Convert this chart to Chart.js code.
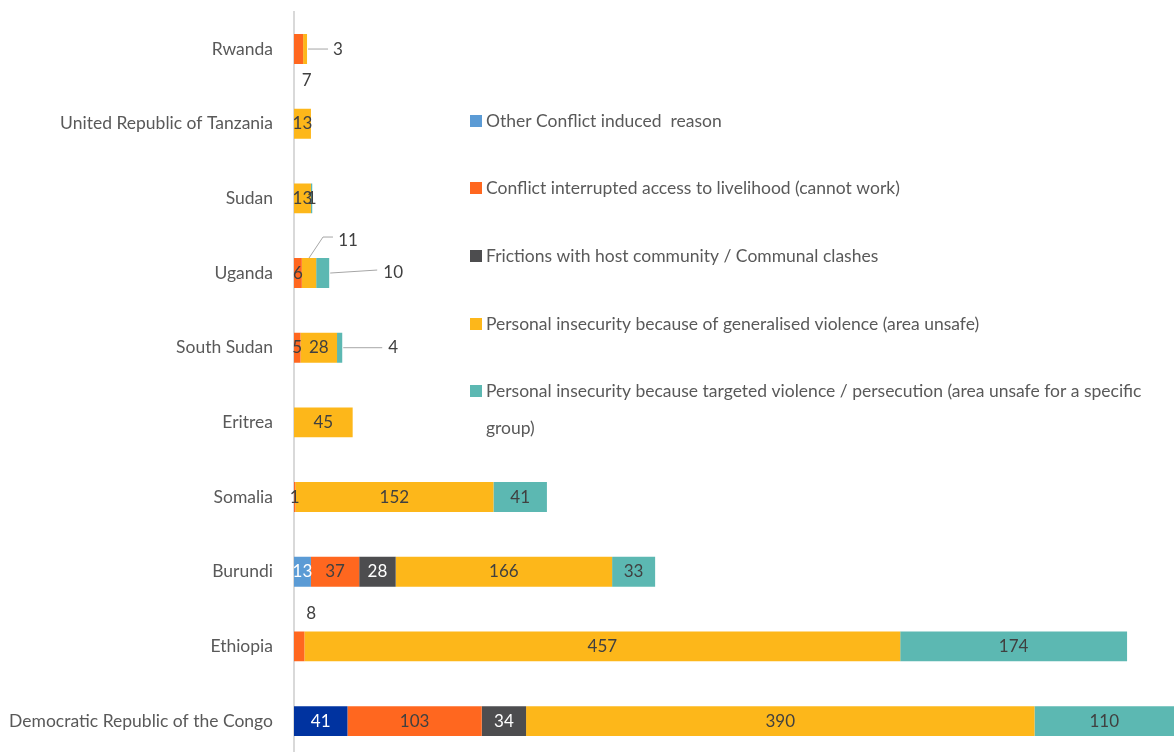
<!DOCTYPE html>
<html>
<head>
<meta charset="utf-8">
<script src="https://cdn.jsdelivr.net/npm/chart.js@4/dist/chart.umd.min.js"></script>
<style>
  html, body { margin: 0; padding: 0; background: #ffffff; overflow: hidden; }
  #wrap { position: relative; width: 1174px; height: 759px; }
</style>
</head>
<body>
<div id="wrap"><canvas id="c" width="1174" height="759"></canvas></div>
<script>
// ---- Data ----
const categories = ['Rwanda', 'United Republic of Tanzania', 'Sudan', 'Uganda', 'South Sudan', 'Eritrea', 'Somalia', 'Burundi', 'Ethiopia', 'Democratic Republic of the Congo'];
const otherConflict = [null, null, null, null, null, null, null, 13, null, 41];
const livelihood    = [7, null, null, 6, 5, null, 1, 37, 8, 103];
const frictions     = [null, null, null, null, null, null, null, 28, null, 34];
const generalised   = [3, 13, 13, 11, 28, 45, 152, 166, 457, 390];
const targeted      = [null, null, 1, 10, 4, null, 41, 33, 174, 110];
const seriesNames = [
  'Other Conflict induced  reason',
  'Conflict interrupted access to livelihood (cannot work)',
  'Frictions with host community / Communal clashes',
  'Personal insecurity because of generalised violence (area unsafe)',
  'Personal insecurity because targeted violence / persecution (area unsafe for a specific group)'
];

// ---- Styles ----
const FONT = 'Lato, "Open Sans", sans-serif';
const colors = ['#5B9BD5', '#FF671F', '#4D4D4F', '#FDB71A', '#5CB8B2'];
const otherColors = categories.map((c, i) => i === categories.length - 1 ? '#0033A0' : colors[0]);
const whiteLabelSeries = [0, 2];

// special label placements (pixel offsets), keyed "series:category"
const labelPlacement = {
  '1:0': { from: 'center', label: [8, 31] },
  '3:0': { from: 'end', label: [31, 0], line: [[1, 0], [21, 0]] },
  '3:3': { from: 'center', label: [39, -33], line: [[0, -15], [14, -36], [24, -36]] },
  '4:3': { from: 'end', label: [64, -1], line: [[1, 0], [48, -3]] },
  '4:4': { from: 'end', label: [51, 0], line: [[1, 0], [40, 0]] },
  '1:8': { from: 'center', label: [12, -33] }
};

const dataLabelPlugin = {
  id: 'dataLabels',
  afterDatasetsDraw(chart) {
    const ctx = chart.ctx;
    ctx.save();
    ctx.font = '17px ' + FONT;
    ctx.textAlign = 'center';
    ctx.textBaseline = 'middle';
    chart.data.datasets.forEach((ds, i) => {
      const meta = chart.getDatasetMeta(i);
      meta.data.forEach((bar, j) => {
        const v = ds.data[j];
        if (v === null || v === undefined) return;
        const p = bar.getProps(['x', 'y', 'base'], true);
        const endX = Math.min(p.x, chart.chartArea.right);
        const cx = (endX + p.base) / 2;
        const pl = labelPlacement[i + ':' + j];
        let lx = cx, ly = p.y;
        let color = whiteLabelSeries.includes(i) ? '#ffffff' : '#404040';
        if (pl) {
          const ox = pl.from === 'end' ? p.x : cx;
          if (pl.line) {
            ctx.strokeStyle = '#A6A6A6';
            ctx.lineWidth = 1;
            ctx.beginPath();
            pl.line.forEach((pt, k) => {
              if (k === 0) ctx.moveTo(ox + pt[0], p.y + pt[1]);
              else ctx.lineTo(ox + pt[0], p.y + pt[1]);
            });
            ctx.stroke();
          }
          lx = ox + pl.label[0];
          ly = p.y + pl.label[1];
          color = '#404040';
        }
        ctx.fillStyle = color;
        ctx.fillText(String(v), lx, ly);
      });
    });
    ctx.restore();
  }
};

const legendPlugin = {
  id: 'customLegend',
  afterDraw(chart) {
    const ctx = chart.ctx;
    ctx.save();
    ctx.font = '17.5px ' + FONT;
    ctx.textBaseline = 'middle';
    ctx.textAlign = 'left';
    const boxX = 470, textX = 486, rows = [121, 188, 256, 324, 391], lineH = 37;
    const maxW = 1174 - textX - 4;
    chart.data.datasets.forEach((ds, i) => {
      const y = rows[i];
      ctx.fillStyle = colors[i];
      ctx.fillRect(boxX, y - 6, 12, 12);
      ctx.fillStyle = '#595959';
      const words = ds.label.split(' ');
      let line = '', lines = [];
      words.forEach(w => {
        const test = line ? line + ' ' + w : w;
        if (ctx.measureText(test).width > maxW && line) { lines.push(line); line = w; }
        else line = test;
      });
      lines.push(line);
      lines.forEach((l, k) => ctx.fillText(l, textX, y + k * lineH));
    });
    ctx.restore();
  }
};

new Chart(document.getElementById('c'), {
  type: 'bar',
  data: {
    labels: categories,
    datasets: [
      { label: seriesNames[0], data: otherConflict, backgroundColor: otherColors },
      { label: seriesNames[1], data: livelihood, backgroundColor: colors[1] },
      { label: seriesNames[2], data: frictions, backgroundColor: colors[2] },
      { label: seriesNames[3], data: generalised, backgroundColor: colors[3] },
      { label: seriesNames[4], data: targeted, backgroundColor: colors[4] }
    ]
  },
  options: {
    indexAxis: 'y',
    responsive: false,
    animation: false,
    devicePixelRatio: 1,
    layout: { padding: { top: 11.7, bottom: 0.6, left: 0, right: 0 } },
    datasets: { bar: { categoryPercentage: 1, barPercentage: 0.4, borderWidth: 0 } },
    plugins: { legend: { display: false }, tooltip: { enabled: false } },
    scales: {
      x: { stacked: true, display: false, min: 0, max: 675 },
      y: {
        stacked: true,
        grid: { display: false, drawTicks: false },
        border: { display: true, color: '#D9D9D9', width: 2 },
        ticks: { color: '#595959', font: { family: FONT, size: 17.5 }, padding: 21 },
        afterFit(scale) { scale.width = 294; scale.paddingTop = 0; scale.paddingBottom = 0; }
      }
    }
  },
  plugins: [dataLabelPlugin, legendPlugin]
});
</script>
</body>
</html>
